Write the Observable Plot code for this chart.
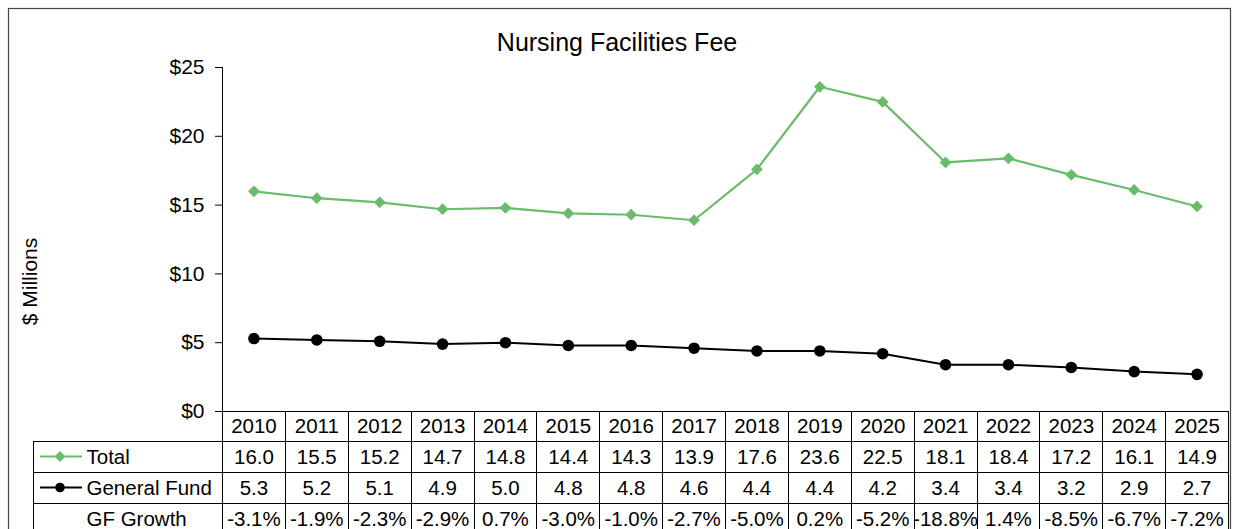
<!DOCTYPE html>
<html>
<head>
<meta charset="utf-8">
<script src="https://cdn.jsdelivr.net/npm/d3@7"></script>
<script src="https://cdn.jsdelivr.net/npm/@observablehq/plot@0.6"></script>
<style>
  html, body { margin: 0; padding: 0; background: #fff; overflow: hidden; }
</style>
</head>
<body>
<div id="chart"></div>
<script>
// ---- data ----
const years = [2010, 2011, 2012, 2013, 2014, 2015, 2016, 2017, 2018, 2019, 2020, 2021, 2022, 2023, 2024, 2025];
const total = [16.0, 15.5, 15.2, 14.7, 14.8, 14.4, 14.3, 13.9, 17.6, 23.6, 22.5, 18.1, 18.4, 17.2, 16.1, 14.9];
const generalFund = [5.3, 5.2, 5.1, 4.9, 5.0, 4.8, 4.8, 4.6, 4.4, 4.4, 4.2, 3.4, 3.4, 3.2, 2.9, 2.7];
const gfGrowth = ["-3.1%", "-1.9%", "-2.3%", "-2.9%", "0.7%", "-3.0%", "-1.0%", "-2.7%", "-5.0%", "0.2%", "-5.2%", "-18.8%", "1.4%", "-8.5%", "-6.7%", "-7.2%"];
const yTicks = [0, 5, 10, 15, 20, 25];
const seriesNames = ["Total", "General Fund", "GF Growth"];
const title = "Nursing Facilities Fee";
const yLabel = "$ Millions";

// ---- layout / style ----
const W = 1233, H = 529;
const mL = 222, mR = 5, mT = 67, mB = 118;
const GREEN = "#6ABB6A";
const FONT = "Liberation Sans, Arial, sans-serif";
const rowOff = [0, 30, 61, 92, 123];   // table row boundaries below the plot bottom
const rowMid = [15, 45.5, 76.5, 107.5];
const labelColLeft = 33;
const TABLE_FS = 20.5;

const rows = years.map((year, i) => ({year, total: total[i], gf: generalFund[i], growth: gfGrowth[i]}));
const fmt = d3.format(".1f");

function tableGrid(index, scales, values, dims) {
  const g = d3.create("svg:g");
  const x = scales.x;
  const xs = years.map(y => x(y));
  const step = xs[1] - xs[0];
  const left = xs[0] - step / 2, right = xs[xs.length - 1] + step / 2;
  const base = dims.height - dims.marginBottom;
  const top = dims.marginTop;
  // outer chart border
  g.append("rect").attr("x", 8.5).attr("y", 8.5).attr("width", dims.width - 11).attr("height", dims.height + 40)
    .attr("fill", "none").attr("stroke", "#444").attr("stroke-width", 1.2);
  // y axis line
  g.append("line").attr("x1", left + 0.5).attr("x2", left + 0.5).attr("y1", top).attr("y2", base).attr("stroke", "#000");
  // horizontal lines
  g.append("line").attr("x1", left).attr("x2", right).attr("y1", base + 0.5).attr("y2", base + 0.5).attr("stroke", "#000");
  for (let r = 1; r < rowOff.length; r++) {
    g.append("line").attr("x1", labelColLeft).attr("x2", right).attr("y1", base + rowOff[r] + 0.5).attr("y2", base + rowOff[r] + 0.5).attr("stroke", "#000");
  }
  // vertical lines
  const bounds = xs.map(v => v - step / 2).concat([right]);
  bounds.forEach(b => {
    g.append("line").attr("x1", Math.round(b) + 0.5).attr("x2", Math.round(b) + 0.5).attr("y1", base).attr("y2", dims.height + 20).attr("stroke", "#000");
  });
  g.append("line").attr("x1", labelColLeft + 0.5).attr("x2", labelColLeft + 0.5).attr("y1", base + rowOff[1]).attr("y2", dims.height + 20).attr("stroke", "#000");
  // legend keys in label column
  const kx1 = 40, kx2 = 82, kc = 60;
  const yT = base + rowMid[1], yG = base + rowMid[2];
  g.append("line").attr("x1", kx1).attr("x2", kx2).attr("y1", yT).attr("y2", yT).attr("stroke", GREEN).attr("stroke-width", 2);
  const h = 5.5;
  g.append("path").attr("d", `M${kc},${yT - h}L${kc + h},${yT}L${kc},${yT + h}L${kc - h},${yT}Z`).attr("fill", GREEN);
  g.append("line").attr("x1", kx1).attr("x2", kx2).attr("y1", yG).attr("y2", yG).attr("stroke", "#000").attr("stroke-width", 2);
  g.append("circle").attr("cx", kc).attr("cy", yG).attr("r", 4.8).attr("fill", "#000");
  return g.node();
}

const chart = Plot.plot({
  width: W,
  height: H,
  marginLeft: mL,
  marginRight: mR,
  marginTop: mT,
  marginBottom: mB,
  style: {fontFamily: FONT, fontSize: "21px", color: "#000", background: "#fff", overflow: "visible"},
  x: {type: "point", domain: years, padding: 0.5, round: false, axis: null},
  y: {domain: [0, 25], ticks: yTicks, tickFormat: d => `$${d}`, tickSize: 7, tickPadding: 11, label: null},
  marks: [
    tableGrid,
    Plot.line(rows, {x: "year", y: "total", stroke: GREEN, strokeWidth: 2.2}),
    Plot.dot(rows, {x: "year", y: "total", symbol: "diamond2", r: 5.3, fill: GREEN, stroke: null}),
    Plot.line(rows, {x: "year", y: "gf", stroke: "#000", strokeWidth: 2}),
    Plot.dot(rows, {x: "year", y: "gf", r: 5.8, fill: "#000", stroke: null}),
    // title
    Plot.text([title], {frameAnchor: "top", text: d => d, dx: W / 2 - (mL + (W - mL - mR) / 2), dy: -25, fontSize: 25, lineAnchor: "middle"}),
    // y label
    Plot.text([yLabel], {frameAnchor: "left", text: d => d, rotate: -90, dx: 30 - mL, dy: 42, fontSize: 21, textAnchor: "middle", lineAnchor: "middle"}),
    // table: header years and values
    Plot.text(rows, {x: "year", frameAnchor: "bottom", dy: rowMid[0], text: d => String(d.year), fontSize: TABLE_FS, lineAnchor: "middle"}),
    Plot.text(rows, {x: "year", frameAnchor: "bottom", dy: rowMid[1], text: d => fmt(d.total), fontSize: TABLE_FS, lineAnchor: "middle"}),
    Plot.text(rows, {x: "year", frameAnchor: "bottom", dy: rowMid[2], text: d => fmt(d.gf), fontSize: TABLE_FS, lineAnchor: "middle"}),
    Plot.text(rows, {x: "year", frameAnchor: "bottom", dy: rowMid[3], text: d => d.growth, fontSize: TABLE_FS, lineAnchor: "middle"}),
    // table: row labels
    ...seriesNames.map((name, i) =>
      Plot.text([name], {frameAnchor: "bottom-left", dx: 86 - mL, dy: rowMid[i + 1], text: d => d, fontSize: TABLE_FS, lineAnchor: "middle", textAnchor: "start"})
    )
  ]
});
document.getElementById("chart").appendChild(chart);
</script>
</body>
</html>
